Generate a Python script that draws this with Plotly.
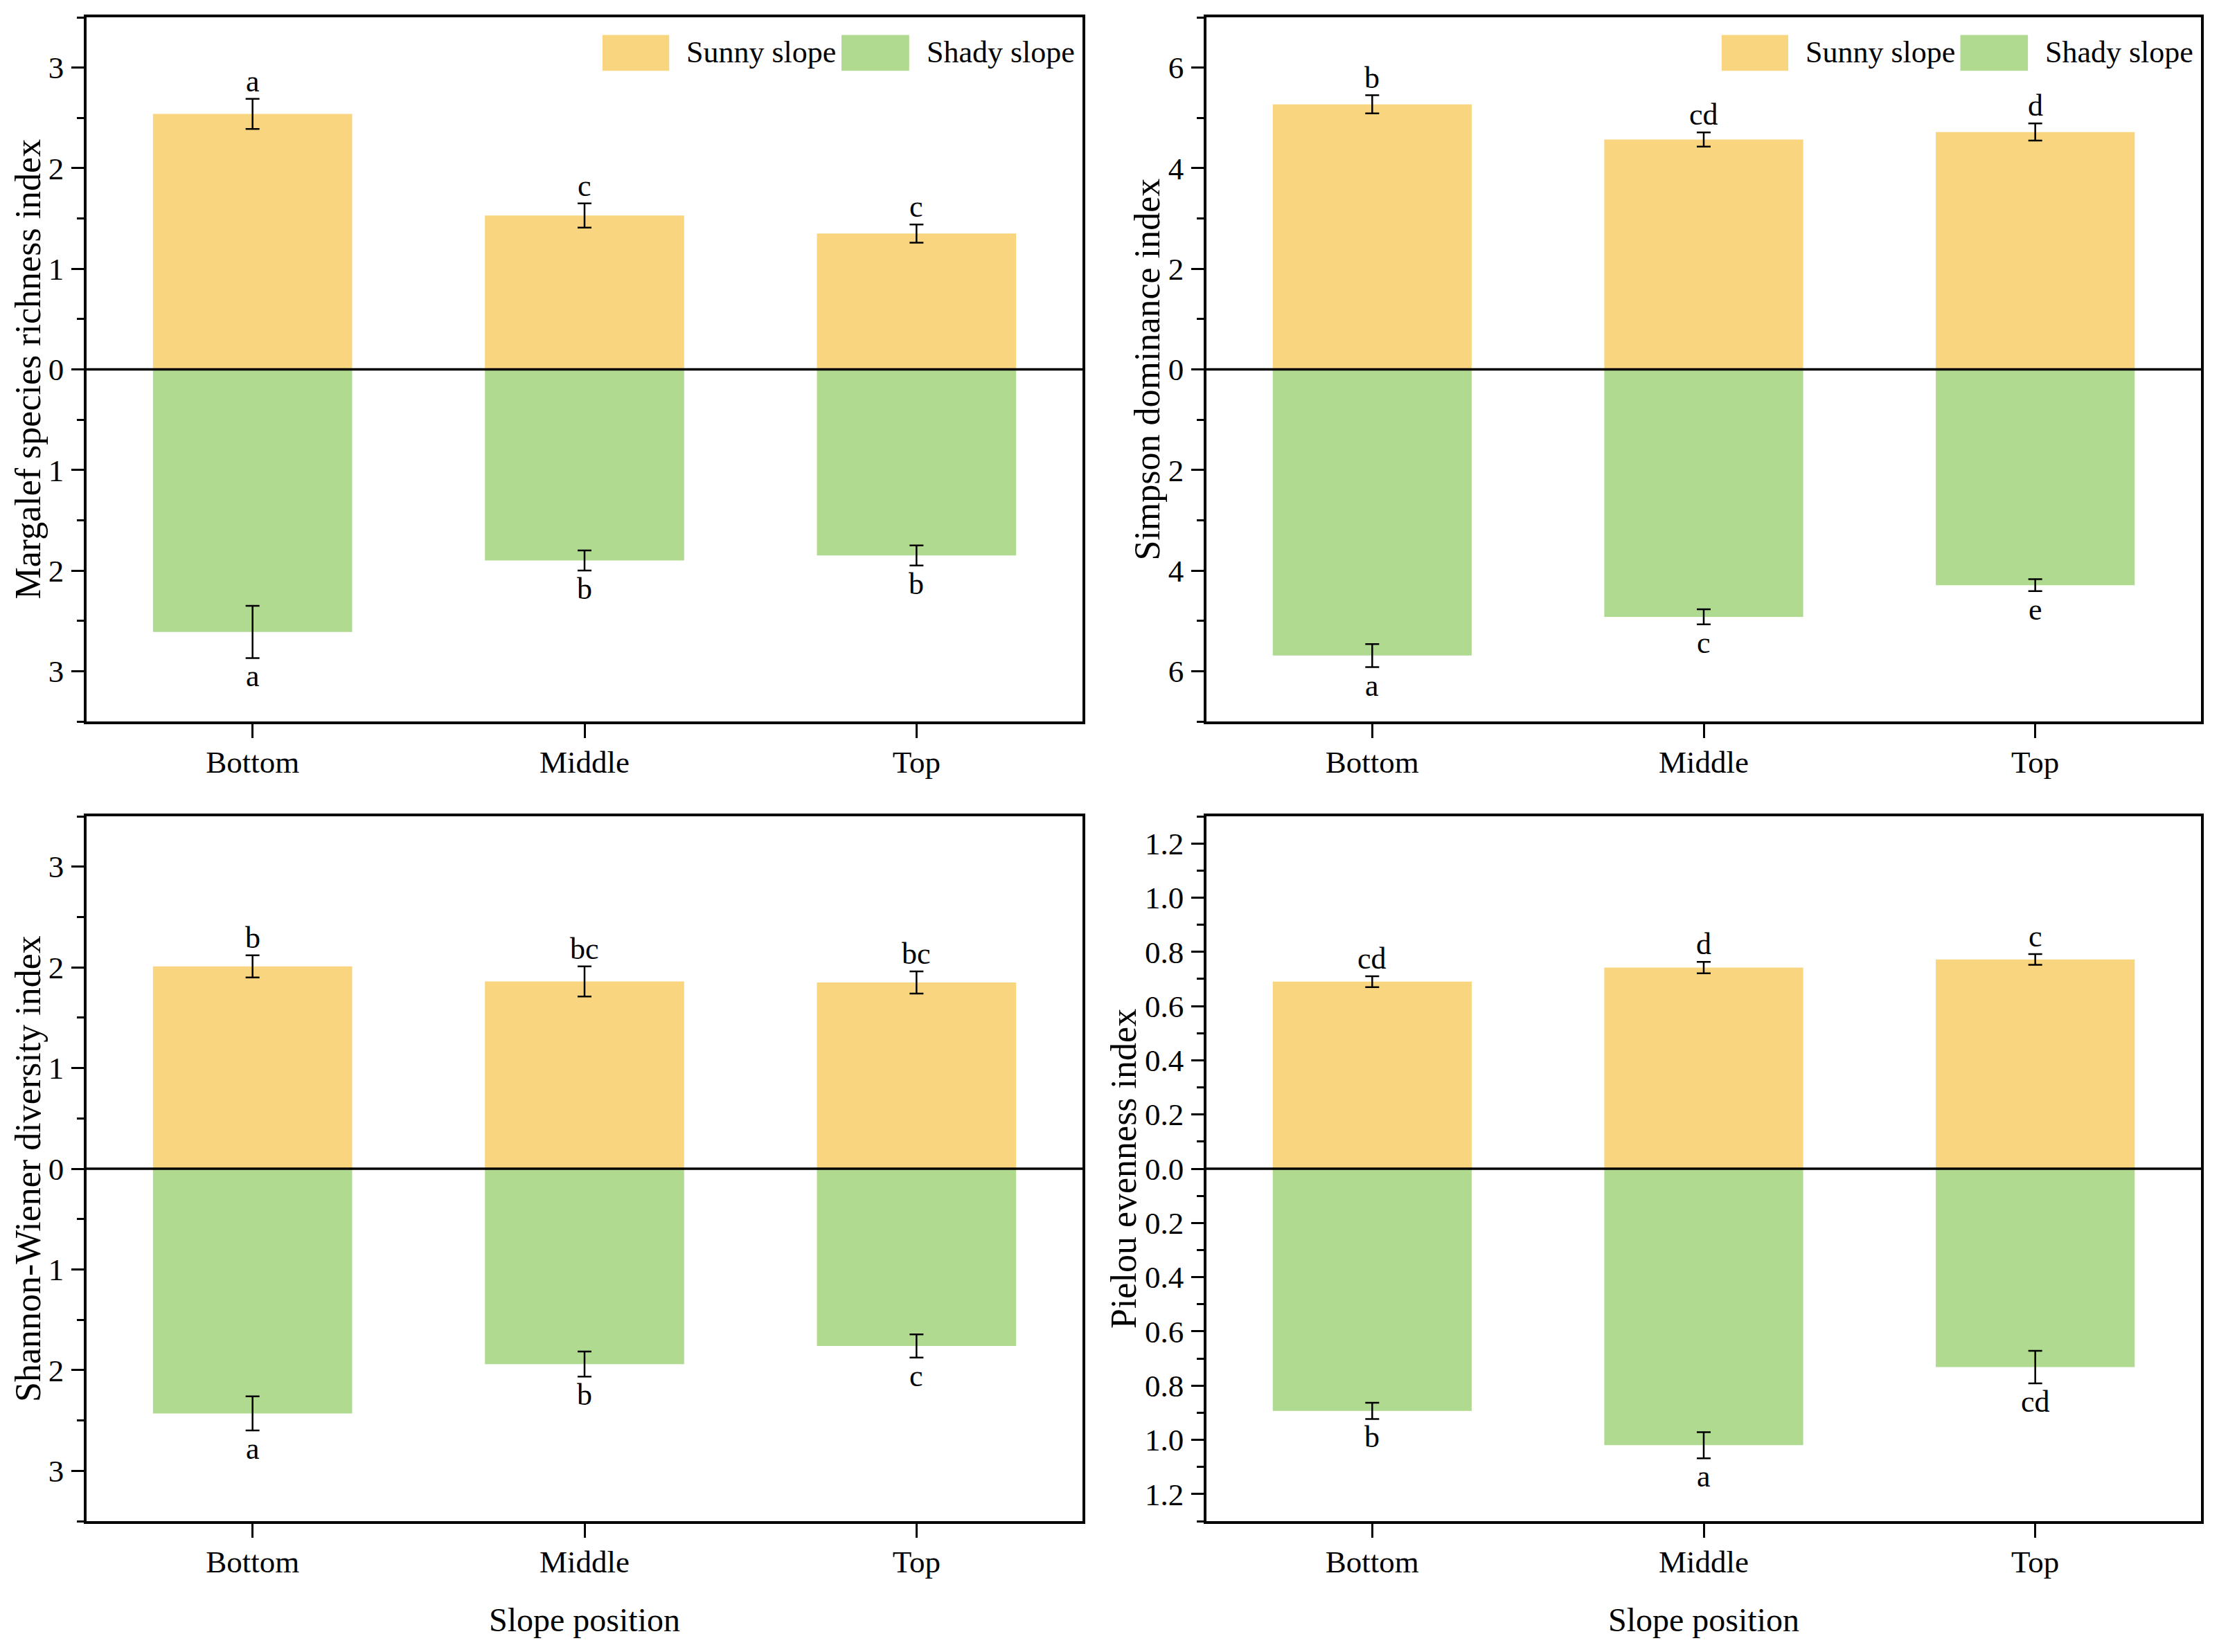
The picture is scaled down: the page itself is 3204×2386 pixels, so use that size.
import numpy as np
import plotly.graph_objects as go

# ---------------- data ----------------
categories = ["Bottom", "Middle", "Top"]

margalef_sunny = [2.54, 1.53, 1.35]
margalef_sunny_err = [0.15, 0.12, 0.09]
margalef_shady = [2.61, 1.90, 1.85]
margalef_shady_err = [0.26, 0.10, 0.10]
margalef_sunny_letters = ["a", "c", "c"]
margalef_shady_letters = ["a", "b", "b"]

simpson_sunny = [5.27, 4.57, 4.72]
simpson_sunny_err = [0.18, 0.14, 0.17]
simpson_shady = [5.69, 4.92, 4.29]
simpson_shady_err = [0.23, 0.15, 0.12]
simpson_sunny_letters = ["b", "cd", "d"]
simpson_shady_letters = ["a", "c", "e"]

shannon_sunny = [2.01, 1.86, 1.85]
shannon_sunny_err = [0.11, 0.15, 0.11]
shannon_shady = [2.43, 1.94, 1.76]
shannon_shady_err = [0.17, 0.125, 0.115]
shannon_sunny_letters = ["b", "bc", "bc"]
shannon_shady_letters = ["a", "b", "c"]

pielou_sunny = [0.69, 0.742, 0.772]
pielou_sunny_err = [0.02, 0.021, 0.02]
pielou_shady = [0.893, 1.02, 0.732]
pielou_shady_err = [0.03, 0.048, 0.06]
pielou_sunny_letters = ["cd", "d", "c"]
pielou_shady_letters = ["b", "a", "cd"]

y_titles = ["Margalef species richness index", "Simpson dominance index",
            "Shannon-Wiener diversity index", "Pielou evenness index"]
x_title = "Slope position"
legend_names = ["Sunny slope", "Shady slope"]

# ---------------- style ----------------
SUNNY = "#F8D57E"
SHADY = "#B1DA91"
FONT = "Liberation Serif, Times New Roman, serif"
PAGE_W, PAGE_H = 3204, 2386
OFF = 8                      # default body margin of the html page
W, H = PAGE_W - 2 * OFF, PAGE_H - 2 * OFF


def px_x(v):
    return (v - OFF) / W


def px_y(v):
    return 1 - (v - OFF) / H


panels = [
    dict(sunny=margalef_sunny, se=margalef_sunny_err, shady=margalef_shady, he=margalef_shady_err,
         sl=margalef_sunny_letters, hl=margalef_shady_letters, rng=3.5, major=1, minor=0.5, fmt="{:.0f}",
         dx=[125, 1563], dy=[25, 1042], tx=40, legend=True, xtitle=False),
    dict(sunny=simpson_sunny, se=simpson_sunny_err, shady=simpson_shady, he=simpson_shady_err,
         sl=simpson_sunny_letters, hl=simpson_shady_letters, rng=7, major=2, minor=1, fmt="{:.0f}",
         dx=[1742, 3178], dy=[25, 1042], tx=1656, legend=True, xtitle=False),
    dict(sunny=shannon_sunny, se=shannon_sunny_err, shady=shannon_shady, he=shannon_shady_err,
         sl=shannon_sunny_letters, hl=shannon_shady_letters, rng=3.5, major=1, minor=0.5, fmt="{:.0f}",
         dx=[125, 1563], dy=[1179, 2197], tx=40, legend=False, xtitle=True),
    dict(sunny=pielou_sunny, se=pielou_sunny_err, shady=pielou_shady, he=pielou_shady_err,
         sl=pielou_sunny_letters, hl=pielou_shady_letters, rng=1.3, major=0.2, minor=0.1, fmt="{:.1f}",
         dx=[1742, 3178], dy=[1179, 2197], tx=1622, legend=False, xtitle=True),
]

fig = go.Figure()
annotations = []
shapes = []

for i, p in enumerate(panels):
    n = i + 1
    xa = "x" if n == 1 else f"x{n}"
    ya = "y" if n == 1 else f"y{n}"
    xkey = "xaxis" if n == 1 else f"xaxis{n}"
    ykey = "yaxis" if n == 1 else f"yaxis{n}"

    sunny = np.array(p["sunny"])
    shady = -np.array(p["shady"])

    fig.add_trace(go.Bar(x=categories, y=sunny, width=0.6, marker=dict(color=SUNNY, line=dict(width=0)),
                         error_y=dict(type="data", array=p["se"], visible=True, color="black",
                                      thickness=2.5, width=10),
                         name=legend_names[0], showlegend=False, xaxis=xa, yaxis=ya))
    fig.add_trace(go.Bar(x=categories, y=shady, width=0.6, marker=dict(color=SHADY, line=dict(width=0)),
                         error_y=dict(type="data", array=p["he"], visible=True, color="black",
                                      thickness=2.5, width=10),
                         name=legend_names[1], showlegend=False, xaxis=xa, yaxis=ya))

    # significance letters
    for c, v, e, t in zip(categories, p["sunny"], p["se"], p["sl"]):
        annotations.append(dict(x=c, y=v + e, xref=xa, yref=ya, text=t, showarrow=False,
                                yanchor="bottom", yshift=-1, font=dict(family=FONT, size=44, color="black")))
    for c, v, e, t in zip(categories, p["shady"], p["he"], p["hl"]):
        annotations.append(dict(x=c, y=-(v + e), xref=xa, yref=ya, text=t, showarrow=False,
                                yanchor="top", yshift=0, font=dict(family=FONT, size=44, color="black")))

    rng = p["rng"]
    major_vals = np.round(np.arange(-np.floor(rng / p["major"]) * p["major"], rng + 1e-9, p["major"]), 6)
    minor_vals = np.round(np.arange(-np.floor(rng / p["minor"]) * p["minor"], rng + 1e-9, p["minor"]), 6)
    tick_text = [p["fmt"].format(abs(v)) for v in major_vals]

    dom_x = [px_x(p["dx"][0]), px_x(p["dx"][1])]
    dom_y = [px_y(p["dy"][1]), px_y(p["dy"][0])]

    fig.layout[xkey] = dict(domain=dom_x, anchor=ya, range=[-0.5, 2.5], type="category",
                            showline=True, linecolor="black", linewidth=3.5, mirror=True,
                            ticks="outside", ticklen=20, tickwidth=3, tickcolor="black",
                            showgrid=False, zeroline=False, ticklabelstandoff=-4,
                            tickfont=dict(family=FONT, size=45, color="black"))
    fig.layout[ykey] = dict(domain=dom_y, anchor=xa, range=[-rng, rng],
                            tickmode="array", tickvals=list(major_vals), ticktext=tick_text,
                            showline=True, linecolor="black", linewidth=3.5, mirror=True,
                            ticks="outside", ticklen=18, tickwidth=3, tickcolor="black",
                            minor=dict(tickmode="array", tickvals=list(minor_vals), ticks="outside",
                                       ticklen=10, tickwidth=3, tickcolor="black", showgrid=False),
                            showgrid=False, zeroline=False, ticklabelstandoff=2,
                            tickfont=dict(family=FONT, size=45, color="black"))

    # zero line above bars
    shapes.append(dict(type="line", xref=f"{xa} domain", yref=ya, x0=0, x1=1, y0=0, y1=0,
                       line=dict(color="black", width=3.5), layer="above"))

    # y-axis title
    annotations.append(dict(x=px_x(p["tx"]), y=(dom_y[0] + dom_y[1]) / 2, xref="paper", yref="paper",
                            text=y_titles[i], textangle=-90, showarrow=False,
                            xanchor="center", yanchor="middle",
                            font=dict(family=FONT, size=52, color="black")))
    if p["xtitle"]:
        annotations.append(dict(x=(dom_x[0] + dom_x[1]) / 2, y=px_y(2339), xref="paper", yref="paper",
                                text=x_title, showarrow=False, xanchor="center", yanchor="middle",
                                font=dict(family=FONT, size=48, color="black")))
    if p["legend"]:
        for (x0, x1, tx), name, col in zip([(0.518, 0.585, 0.601), (0.758, 0.826, 0.842)],
                                           legend_names, [SUNNY, SHADY]):
            shapes.append(dict(type="rect", xref=f"{xa} domain", yref=f"{ya} domain",
                               x0=x0, x1=x1, y0=0.924, y1=0.975,
                               fillcolor=col, line=dict(width=0), layer="above"))
            annotations.append(dict(x=tx, y=0.95, xref=f"{xa} domain", yref=f"{ya} domain",
                                    text=name, showarrow=False, xanchor="left", yanchor="middle",
                                    font=dict(family=FONT, size=44, color="black")))

fig.update_layout(width=W, height=H, margin=dict(l=0, r=0, t=0, b=0),
                  paper_bgcolor="white", plot_bgcolor="white", barmode="overlay",
                  annotations=annotations, shapes=shapes, showlegend=False,
                  font=dict(family=FONT, color="black"))

fig.write_html("out.html")
